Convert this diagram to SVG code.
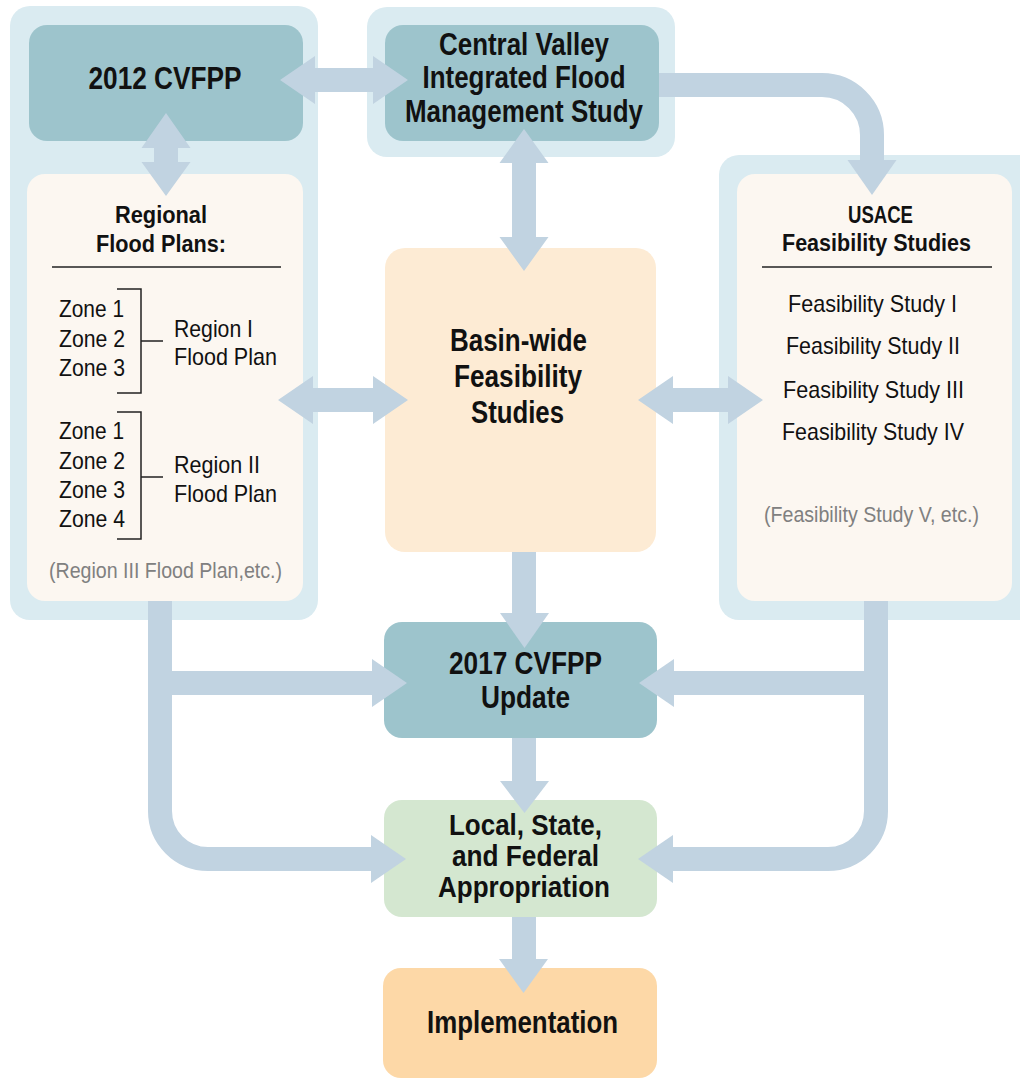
<svg xmlns="http://www.w3.org/2000/svg" width="1020" height="1080" viewBox="0 0 1020 1080">
  <style>
    .panel { fill: #daebf1; }
    .teal { fill: #9dc4cc; }
    .cream { fill: #fcf7f1; }
    .peach { fill: #fdebd4; }
    .green { fill: #d4e7d0; }
    .orange { fill: #fdd8a7; }
    .band { fill: none; stroke: #c1d3e1; stroke-width: 24; stroke-linecap: butt; stroke-linejoin: miter; }
    .head { fill: #c1d3e1; }
    .rule { fill: none; stroke: #222; stroke-width: 1.5; }
    text { font-family: "Liberation Sans", Arial, sans-serif; fill: #111; }
    .title { font-size: 31px; font-weight: bold; text-anchor: middle; }
    .tight { font-size: 30px; }
    .sub { font-size: 24px; font-weight: bold; text-anchor: middle; }
    .body { font-size: 24px; }
    .mid { text-anchor: middle; }
    .note { font-size: 22px; fill: #808080; text-anchor: middle; }
  </style>

  <!-- background panels -->
  <g id="panel-left"><rect class="panel" x="10" y="6" width="308" height="614" rx="20"/></g>
  <g id="panel-center"><rect class="panel" x="367" y="7" width="308" height="150" rx="20"/></g>
  <g id="panel-right"><rect class="panel" x="719" y="155" width="330" height="465" rx="20"/></g>

  <g id="cvfpp-2012">
    <rect class="teal" x="29" y="25" width="274" height="116" rx="18"/>
    <text class="title" x="165" y="89" textLength="153" lengthAdjust="spacingAndGlyphs">2012 CVFPP</text>
  </g>

  <g id="cvifms">
    <rect class="teal" x="385" y="25" width="274" height="116" rx="18"/>
    <text class="title" x="524" y="55" textLength="170" lengthAdjust="spacingAndGlyphs">Central Valley</text>
    <text class="title" x="524" y="88" textLength="203" lengthAdjust="spacingAndGlyphs">Integrated Flood</text>
    <text class="title" x="524" y="122" textLength="238" lengthAdjust="spacingAndGlyphs">Management Study</text>
  </g>

  <g id="regional-plans">
    <rect class="cream" x="27" y="174" width="276" height="427" rx="18"/>
    <text class="sub" x="161" y="223" textLength="92" lengthAdjust="spacingAndGlyphs">Regional</text>
    <text class="sub" x="161" y="252" textLength="130" lengthAdjust="spacingAndGlyphs">Flood Plans:</text>
    <path class="rule" d="M52 267 H281"/>
    <text class="body" x="59" y="317" textLength="65" lengthAdjust="spacingAndGlyphs">Zone 1</text>
    <text class="body" x="59" y="347" textLength="66" lengthAdjust="spacingAndGlyphs">Zone 2</text>
    <text class="body" x="59" y="376" textLength="66" lengthAdjust="spacingAndGlyphs">Zone 3</text>
    <path class="rule" d="M117 289 H141 V393 H117 M141 341 H163"/>
    <text class="body" x="174" y="337" textLength="79" lengthAdjust="spacingAndGlyphs">Region I</text>
    <text class="body" x="174" y="365" textLength="103" lengthAdjust="spacingAndGlyphs">Flood Plan</text>
    <text class="body" x="59" y="439" textLength="65" lengthAdjust="spacingAndGlyphs">Zone 1</text>
    <text class="body" x="59" y="469" textLength="66" lengthAdjust="spacingAndGlyphs">Zone 2</text>
    <text class="body" x="59" y="498" textLength="66" lengthAdjust="spacingAndGlyphs">Zone 3</text>
    <text class="body" x="59" y="527" textLength="66" lengthAdjust="spacingAndGlyphs">Zone 4</text>
    <path class="rule" d="M117 412 H141 V539 H117 M141 477 H163"/>
    <text class="body" x="174" y="473" textLength="86" lengthAdjust="spacingAndGlyphs">Region II</text>
    <text class="body" x="174" y="502" textLength="103" lengthAdjust="spacingAndGlyphs">Flood Plan</text>
    <text class="note" x="165.5" y="578" textLength="233" lengthAdjust="spacingAndGlyphs">(Region III Flood Plan,etc.)</text>
  </g>

  <g id="usace-studies">
    <rect class="cream" x="737" y="174" width="275" height="427" rx="18"/>
    <text class="sub" x="880.5" y="223" textLength="65" lengthAdjust="spacingAndGlyphs">USACE</text>
    <text class="sub" x="876.5" y="251" textLength="189" lengthAdjust="spacingAndGlyphs">Feasibility Studies</text>
    <path class="rule" d="M762 267 H992"/>
    <text class="body mid" x="872.5" y="312" textLength="169" lengthAdjust="spacingAndGlyphs">Feasibility Study I</text>
    <text class="body mid" x="873" y="354" textLength="174" lengthAdjust="spacingAndGlyphs">Feasibility Study II</text>
    <text class="body mid" x="873.5" y="398" textLength="181" lengthAdjust="spacingAndGlyphs">Feasibility Study III</text>
    <text class="body mid" x="873" y="440" textLength="182" lengthAdjust="spacingAndGlyphs">Feasibility Study IV</text>
    <text class="note" x="871.5" y="522" textLength="215" lengthAdjust="spacingAndGlyphs">(Feasibility Study V, etc.)</text>
  </g>

  <g id="basin-wide">
    <rect class="peach" x="385" y="248" width="271" height="304" rx="20"/>
    <text class="title" x="518.5" y="351" textLength="137" lengthAdjust="spacingAndGlyphs">Basin-wide</text>
    <text class="title" x="518" y="387" textLength="128" lengthAdjust="spacingAndGlyphs">Feasibility</text>
    <text class="title" x="517.5" y="423" textLength="93" lengthAdjust="spacingAndGlyphs">Studies</text>
  </g>

  <g id="cvfpp-2017">
    <rect class="teal" x="384" y="622" width="273" height="116" rx="18"/>
    <text class="title" x="525.5" y="674" textLength="153" lengthAdjust="spacingAndGlyphs">2017 CVFPP</text>
    <text class="title" x="525.5" y="708" textLength="89" lengthAdjust="spacingAndGlyphs">Update</text>
  </g>

  <g id="appropriation">
    <rect class="green" x="384" y="800" width="273" height="117" rx="18"/>
    <text class="title tight" x="525.5" y="835" textLength="153" lengthAdjust="spacingAndGlyphs">Local, State,</text>
    <text class="title tight" x="525.5" y="866" textLength="147" lengthAdjust="spacingAndGlyphs">and Federal</text>
    <text class="title tight" x="524" y="897" textLength="172" lengthAdjust="spacingAndGlyphs">Appropriation</text>
  </g>

  <g id="implementation">
    <rect class="orange" x="383" y="968" width="274" height="110" rx="18"/>
    <text class="title" x="522.5" y="1033" textLength="191" lengthAdjust="spacingAndGlyphs">Implementation</text>
  </g>

  <!-- connectors -->
  <g id="connectors">
    <!-- two-way links -->
    <polygon class="head" points="280,80 315,56 315,68 373,68 373,56 408,80 373,104 373,92 315,92 315,104"/>
    <polygon class="head" points="166,113 190.5,148 178,148 178,162 190.5,162 166,196 141.5,162 154,162 154,148 141.5,148"/>
    <polygon class="head" points="524,129 548.5,163 536,163 536,237 548.5,237 524,271 499.5,237 512,237 512,163 499.5,163"/>
    <polygon class="head" points="278,400 313,376 313,388 373,388 373,376 408,400 373,424 373,412 313,412 313,424"/>
    <polygon class="head" points="638,400 673,376 673,388 728,388 728,376 763,400 728,424 728,412 673,412 673,424"/>

    <!-- CVIFMS to USACE studies -->
    <path class="band" d="M659 85 H822 A50 50 0 0 1 872 135 V161"/>
    <polygon class="head" points="847.5,160 896.5,160 872,195"/>

    <!-- central spine -->
    <path class="band" d="M524 552 V614"/>
    <polygon class="head" points="500,613 549,613 524.5,648"/>
    <path class="band" d="M524 738 V782"/>
    <polygon class="head" points="500,781 549,781 524.5,813"/>
    <path class="band" d="M524 917 V960"/>
    <polygon class="head" points="499,959 548,959 523.5,993"/>

    <!-- regional plans feed -->
    <path class="band" d="M160 601 V811 A48 48 0 0 0 208 859 H373"/>
    <path class="band" d="M160 683 H373"/>
    <polygon class="head" points="372,659 407,683 372,707"/>
    <polygon class="head" points="371,835 406,859 371,883"/>

    <!-- USACE studies feed -->
    <path class="band" d="M876 601 V811 A48 48 0 0 1 828 859 H673"/>
    <path class="band" d="M876 683 H673"/>
    <polygon class="head" points="674,659 639,683 674,707"/>
    <polygon class="head" points="673,835 638,859 673,883"/>
  </g>
</svg>
